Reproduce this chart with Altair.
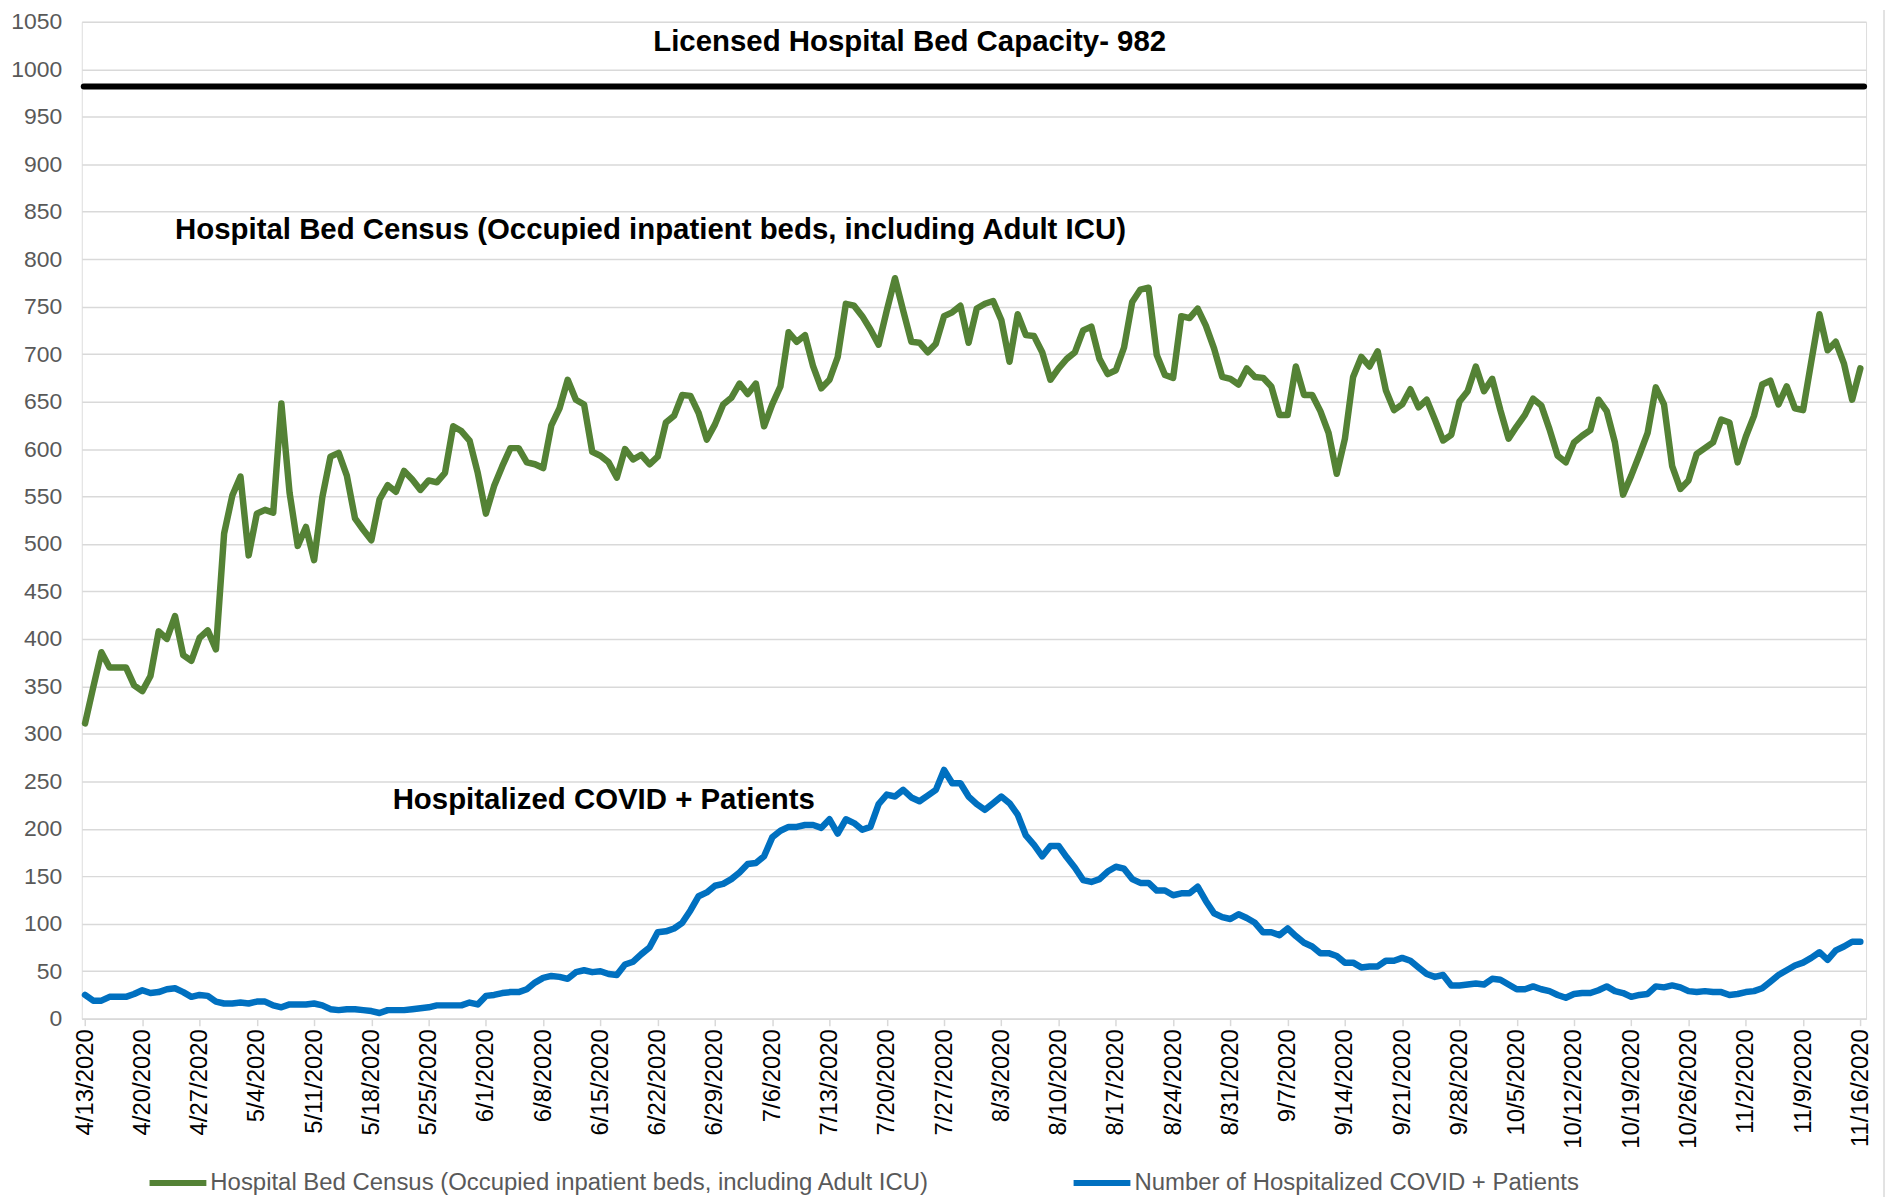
import altair as alt
import pandas as pd

# ---- data (one value per day, 4/13/2020 .. 11/16/2020) ----
census = [
    311, 349, 386, 370, 370, 370, 351, 345, 361, 408,
    400, 424, 383, 377, 401, 409, 389, 511, 551, 571,
    488, 532, 536, 533, 648, 554, 498, 518, 483, 549,
    592, 596, 572, 527, 515, 504, 547, 562, 555, 577,
    568, 557, 567, 565, 575, 624, 619, 609, 575, 532,
    561, 582, 601, 601, 586, 584, 580, 625, 643, 673,
    652, 647, 597, 593, 586, 570, 600, 589, 594, 584,
    592, 628, 635, 657, 656, 638, 610, 626, 647, 654,
    669, 658, 669, 624, 647, 666, 723, 713, 720, 687,
    664, 673, 697, 753, 751, 740, 726, 710, 746, 780,
    746, 713, 712, 702, 711, 740, 744, 751, 712, 748,
    753, 756, 736, 692, 742, 720, 719, 702, 673, 685,
    695, 702, 725, 729, 695, 679, 683, 707, 755, 768,
    770, 699, 678, 675, 740, 738, 748, 730, 706, 676,
    674, 668, 685, 676, 675, 666, 636, 636, 687, 657,
    657, 640, 617, 574, 611, 676, 697, 687, 703, 662,
    641, 647, 663, 644, 652, 631, 609, 615, 650, 661,
    687, 661, 674, 641, 611, 624, 636, 653, 646, 621,
    593, 586, 607, 614, 620, 652, 640, 607, 552, 572,
    594, 617, 665, 647, 582, 558, 567, 595, 601, 607,
    631, 628, 586, 613, 635, 668, 672, 647, 666, 643,
    641, 692, 742, 704, 713, 690, 652, 685,
]

covid = [
    25, 19, 19, 23, 23, 23, 26, 30, 27, 28,
    31, 32, 28, 23, 25, 24, 18, 16, 16, 17,
    16, 18, 18, 14, 12, 15, 15, 15, 16, 14,
    10, 9, 10, 10, 9, 8, 6, 9, 9, 9,
    10, 11, 12, 14, 14, 14, 14, 17, 15, 24,
    25, 27, 28, 28, 31, 38, 43, 45, 44, 42,
    49, 51, 49, 50, 47, 46, 57, 60, 68, 75,
    91, 92, 95, 101, 114, 129, 133, 140, 142, 147,
    154, 163, 164, 171, 191, 198, 202, 202, 204, 204,
    201, 210, 195, 210, 206, 199, 202, 226, 236, 234,
    241, 233, 229, 235, 241, 262, 248, 248, 234, 226,
    220, 227, 234, 227, 215, 193, 183, 171, 182, 182,
    170, 159, 146, 144, 147, 155, 160, 158, 147, 143,
    143, 135, 135, 130, 132, 132, 139, 124, 111, 107,
    105, 110, 106, 101, 91, 91, 88, 95, 87, 80,
    76, 69, 69, 66, 59, 59, 54, 55, 55, 61,
    61, 64, 61, 54, 47, 44, 46, 35, 35, 36,
    37, 36, 42, 41, 36, 31, 31, 34, 31, 29,
    25, 22, 26, 27, 27, 30, 34, 29, 27, 23,
    25, 26, 34, 33, 35, 33, 29, 28, 29, 28,
    28, 25, 26, 28, 29, 32, 39, 46, 51, 56,
    59, 64, 70, 62, 72, 76, 81, 81,
]

tick_labels = [
    "4/13/2020", "4/20/2020", "4/27/2020", "5/4/2020", "5/11/2020", "5/18/2020",
    "5/25/2020", "6/1/2020", "6/8/2020", "6/15/2020", "6/22/2020", "6/29/2020",
    "7/6/2020", "7/13/2020", "7/20/2020", "7/27/2020", "8/3/2020", "8/10/2020",
    "8/17/2020", "8/24/2020", "8/31/2020", "9/7/2020", "9/14/2020", "9/21/2020",
    "9/28/2020", "10/5/2020", "10/12/2020", "10/19/2020", "10/26/2020",
    "11/2/2020", "11/9/2020", "11/16/2020",
]

series_names = [
    "Hospital Bed Census (Occupied inpatient beds, including Adult ICU)",
    "Number of Hospitalized COVID + Patients",
]
series_colors = ["#548235", "#0070C0"]

capacity = 982

ann_text = [
    "Licensed Hospital Bed Capacity- 982",
    "Hospital Bed Census (Occupied inpatient beds, including Adult ICU)",
    "Hospitalized COVID + Patients",
]
ann_day = [100.8, 11.0, 37.6]
ann_value = [1029, 831, 230]
ann_align = ["center", "left", "left"]

# ---- tables ----
rows = []
for name, vals in zip(series_names, [census, covid]):
    for i, v in enumerate(vals):
        rows.append({"day": i, "value": v, "series": name})
df = pd.DataFrame(rows)

ann_df = pd.DataFrame({"day": ann_day, "value": ann_value, "text": ann_text, "align": ann_align})

FONT = "Liberation Sans"
W, H = 1790, 1000
PAD_TOP = 12

xscale = alt.Scale(domain=[-0.4, 217.7], nice=False, zero=False)
yscale = alt.Scale(domain=[0, 1050], nice=False, zero=True)

tick_values = list(range(0, len(census), 7))
labels_js = "[" + ",".join("'" + t + "'" for t in tick_labels) + "]"

x_axis = alt.Axis(
    values=tick_values,
    labelExpr=labels_js + "[round(datum.value / 7)]",
    labelAngle=270,
    labelFont=FONT,
    labelFontSize=24,
    labelColor="#000000",
    labelPadding=3,
    labelOverlap=False,
    grid=False,
    domainColor="#d9d9d9",
    domainWidth=1.5,
    tickColor="#d9d9d9",
    tickWidth=1.5,
    tickSize=7,
    title=None,
)
y_axis = alt.Axis(
    values=list(range(0, 1051, 50)),
    format="d",
    labelFont=FONT,
    labelFontSize=23,
    labelColor="#595959",
    labelPadding=20,
    grid=True,
    gridColor="#d9d9d9",
    gridWidth=1.5,
    domain=False,
    ticks=False,
    title=None,
)

lines = alt.Chart(df).mark_line(strokeWidth=6.5, strokeJoin="round", strokeCap="round").encode(
    x=alt.X("day:Q", scale=xscale, axis=x_axis),
    y=alt.Y("value:Q", scale=yscale, axis=y_axis),
    color=alt.Color(
        "series:N",
        scale=alt.Scale(domain=series_names, range=series_colors),
        legend=alt.Legend(
            title=None,
            orient="none",
            legendX=65,
            legendY=1133,
            direction="horizontal",
            symbolType="stroke",
            symbolStrokeWidth=6,
            symbolSize=3249,
            labelFont=FONT,
            labelFontSize=24,
            labelColor="#595959",
            labelLimit=1200,
            labelOffset=1,
            columnPadding=132,
            padding=0,
        ),
    ),
)

cap_rule = alt.Chart(pd.DataFrame({"cap": [capacity]})).mark_rule(
    color="black", strokeWidth=6, strokeCap="round"
).encode(
    y=alt.Y("cap:Q", scale=yscale),
    x=alt.value(2),
    x2=alt.value(W - 2),
)

text_center = alt.Chart(ann_df).transform_filter("datum.align == 'center'").mark_text(
    font=FONT, fontSize=29.5, fontWeight="bold", color="black", align="center", baseline="middle"
).encode(
    x=alt.X("day:Q", scale=xscale),
    y=alt.Y("value:Q", scale=yscale),
    text="text:N",
)
text_left = alt.Chart(ann_df).transform_filter("datum.align == 'left'").mark_text(
    font=FONT, fontSize=29.5, fontWeight="bold", color="black", align="left", baseline="middle"
).encode(
    x=alt.X("day:Q", scale=xscale),
    y=alt.Y("value:Q", scale=yscale),
    text="text:N",
)

border = alt.Chart(pd.DataFrame({"b": [0]})).mark_rule(color="#d9d9d9", strokeWidth=1.5).encode(
    x=alt.value(W + 18),
    y=alt.value(-PAD_TOP),
    y2=alt.value(H + 179),
)

chart = alt.layer(lines, cap_rule, text_center, text_left, border).properties(
    width=W,
    height=H,
    padding={"left": 74, "top": PAD_TOP, "right": 20, "bottom": 179},
    autosize=alt.AutoSizeParams(type="none"),
).configure_view(stroke=None).configure(background="white")

chart.save("out.html", embed_options={"renderer": "svg", "actions": False})
